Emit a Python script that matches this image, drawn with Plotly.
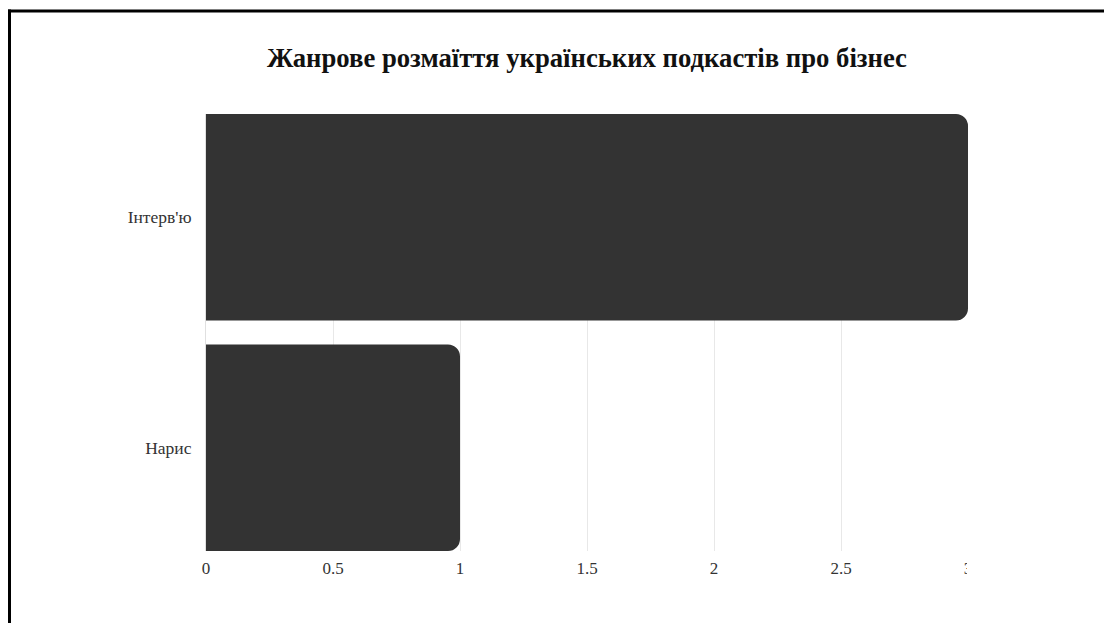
import plotly.graph_objects as go

categories = ["Нарис", "Інтерв'ю"]
values = [1, 3]
tick_vals = [0, 0.5, 1, 1.5, 2, 2.5, 3]
tick_text = ["0", "0.5", "1", "1.5", "2", "2.5", "3"]
title_text = "Жанрове розмаїття українських подкастів про бізнес"

W, H = 1104, 623
L, R, T, B = 206, 136, 114, 72
pw, ph = W - L - R, H - T - B

def px_x(p):
    return (p - L) / pw

def px_y(p):
    return (H - B - p) / ph

gap = 0.104
fig = go.Figure(go.Bar(
    x=values, y=categories, orientation="h",
    marker=dict(color="#333333", cornerradius=12, line=dict(width=0)),
    hoverinfo="x+y",
))

fig.update_layout(
    width=W, height=H,
    margin=dict(l=L, r=R, t=T, b=B, pad=0),
    paper_bgcolor="white", plot_bgcolor="white",
    bargap=gap,
    showlegend=False,
    font=dict(family="Liberation Serif, Times New Roman, serif", color="#333333"),
    title=dict(text="<b>" + title_text + "</b>", x=0.5, xref="paper", xanchor="center",
               y=1 - 58 / H, yref="container", yanchor="middle",
               font=dict(size=26.7, color="#111111", family="Liberation Serif, serif")),
    xaxis=dict(range=[0, 3], tickvals=tick_vals, ticktext=tick_text,
               showgrid=True, gridcolor="#e8e8e8", gridwidth=1,
               zeroline=False, showline=False, ticks="", ticklabelstandoff=5,
               tickfont=dict(size=17, color="#333333")),
    yaxis=dict(range=[-(1 - gap) / 2, 1 + (1 - gap) / 2],
               showgrid=False, zeroline=False, showline=True, linecolor="#e0e0e0", linewidth=1,
               ticks="", ticklabelstandoff=10,
               tickfont=dict(size=17.5, color="#333333")),
    shapes=[
        dict(type="rect", xref="paper", yref="paper",
             x0=px_x(967), x1=px_x(W), y0=px_y(553), y1=px_y(600),
             fillcolor="white", line=dict(width=0), layer="above"),
        dict(type="rect", xref="paper", yref="paper",
             x0=px_x(8), x1=px_x(W), y0=px_y(12.5), y1=px_y(9.5),
             fillcolor="black", line=dict(width=0), layer="above"),
        dict(type="rect", xref="paper", yref="paper",
             x0=px_x(8), x1=px_x(11), y0=px_y(H), y1=px_y(9.5),
             fillcolor="black", line=dict(width=0), layer="above"),
    ],
)

fig.write_html("out.html")
